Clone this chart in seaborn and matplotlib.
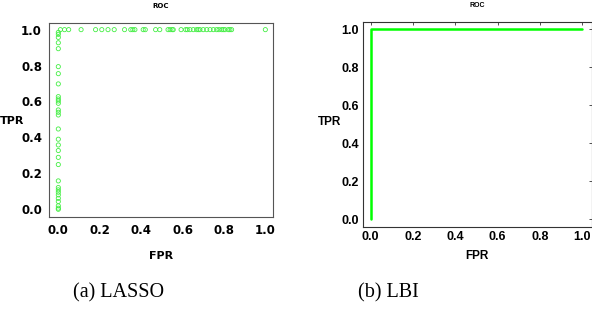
import numpy as np
import pandas as pd
import seaborn as sns
import matplotlib
matplotlib.use('Agg')
import matplotlib.pyplot as plt

# LASSO ROC points
lasso_fpr_top = [0.01, 0.03, 0.05, 0.11, 0.18, 0.21, 0.24, 0.27, 0.32, 0.35, 0.36, 0.37,
                 0.41, 0.42, 0.47, 0.49, 0.53, 0.54, 0.55, 0.555, 0.593, 0.615, 0.623,
                 0.636, 0.652, 0.668, 0.676, 0.684, 0.70, 0.717, 0.733, 0.749, 0.765,
                 0.776, 0.789, 0.797, 0.805, 0.821, 0.829, 0.837, 1.0]
lasso_tpr_left = [0.0, 0.006, 0.019, 0.043, 0.061, 0.08, 0.095, 0.108, 0.121, 0.158,
                  0.249, 0.289, 0.327, 0.358, 0.39, 0.447, 0.525, 0.54, 0.553, 0.59,
                  0.603, 0.614, 0.627, 0.698, 0.755, 0.794, 0.894, 0.927, 0.957, 0.974,
                  0.985]
lasso = pd.DataFrame({
    'FPR': lasso_fpr_top + [0.0] * len(lasso_tpr_left),
    'TPR': [1.0] * len(lasso_fpr_top) + lasso_tpr_left,
})

# LBI ROC curve
lbi_fpr = [0.0, 0.0, 1.0]
lbi_tpr = [0.0, 1.0, 1.0]
lbi = pd.DataFrame({'FPR': lbi_fpr, 'TPR': lbi_tpr})

ticks = [0.0, 0.2, 0.4, 0.6, 0.8, 1.0]
tick_labels = ['0.0', '0.2', '0.4', '0.6', '0.8', '1.0']

sns.set_style('white')
plt.rcParams['font.family'] = ['DejaVu Sans']
plt.rcParams['text.color'] = 'black'
plt.rcParams['xtick.color'] = 'black'
plt.rcParams['ytick.color'] = 'black'
plt.rcParams['axes.labelcolor'] = 'black'

W, H = 592, 336
fig = plt.figure(figsize=(W / 100, H / 100), dpi=100)

def px_axes(x0, y0, x1, y1):
    return fig.add_axes([x0 / W, 1 - y1 / H, (x1 - x0) / W, (y1 - y0) / H])

# Left panel: LASSO
ax1 = px_axes(49, 23, 273, 217)
sns.scatterplot(data=lasso, x='FPR', y='TPR', ax=ax1, marker='o', s=9,
                facecolors='none', edgecolor='#44ee44', linewidth=0.6)
ax1.set_xlim(-0.045, 1.037)
ax1.set_ylim(-0.043, 1.037)
ax1.set_xticks(ticks)
ax1.set_yticks(ticks)
ax1.set_xticklabels(tick_labels, fontsize=8.5, fontweight='bold')
ax1.set_yticklabels(tick_labels, fontsize=8.5, fontweight='bold')
ax1.tick_params(direction='out', length=3, width=0.6, color='#444444', pad=2)
for sp in ax1.spines.values():
    sp.set_color('#555555')
    sp.set_linewidth(0.8)
ax1.set_xlabel('FPR', fontsize=8, fontweight='bold', labelpad=10)
ax1.set_ylabel('TPR', fontsize=8, fontweight='bold', rotation=0, va='center')
ax1.yaxis.set_label_coords(-0.165, 0.495)
ax1.set_title('ROC', fontsize=5, fontweight='bold', pad=11)

# Right panel: LBI
ax2 = px_axes(363, 22, 591.5, 227)
sns.lineplot(data=lbi, x='FPR', y='TPR', ax=ax2, color='#00ff00', linewidth=1.8,
             sort=False, estimator=None)
ax2.set_xlim(-0.036, 1.044)
ax2.set_ylim(-0.040, 1.037)
ax2.set_xticks(ticks)
ax2.set_yticks(ticks)
ax2.set_xticklabels(tick_labels, fontsize=9, fontweight='bold',
                    family=['Liberation Sans'])
ax2.set_yticklabels(tick_labels, fontsize=9, fontweight='bold',
                    family=['Liberation Sans'])
ax2.tick_params(direction='in', length=2.5, width=0.6, top=True, right=True,
                color='#333333', pad=3)
for sp in ax2.spines.values():
    sp.set_color('#333333')
    sp.set_linewidth(0.8)
ax2.set_xlabel('FPR', fontsize=8.5, fontweight='bold', family=['Liberation Sans'],
               labelpad=5)
ax2.set_ylabel('TPR', fontsize=8.5, fontweight='bold', family=['Liberation Sans'],
               rotation=0, va='center')
ax2.yaxis.set_label_coords(-0.145, 0.51)
ax2.set_title('ROC', fontsize=5, fontweight='bold', family=['Liberation Sans'], pad=11)

# Sub-captions
fig.text(119 / W, 1 - 293 / H, '(a) LASSO', ha='center', va='center',
         fontsize=14.5, family=['Liberation Serif'])
fig.text(388 / W, 1 - 293 / H, '(b) LBI', ha='center', va='center',
         fontsize=14.5, family=['Liberation Serif'])

fig.savefig('out.png', dpi=100)
plt.close(fig)
